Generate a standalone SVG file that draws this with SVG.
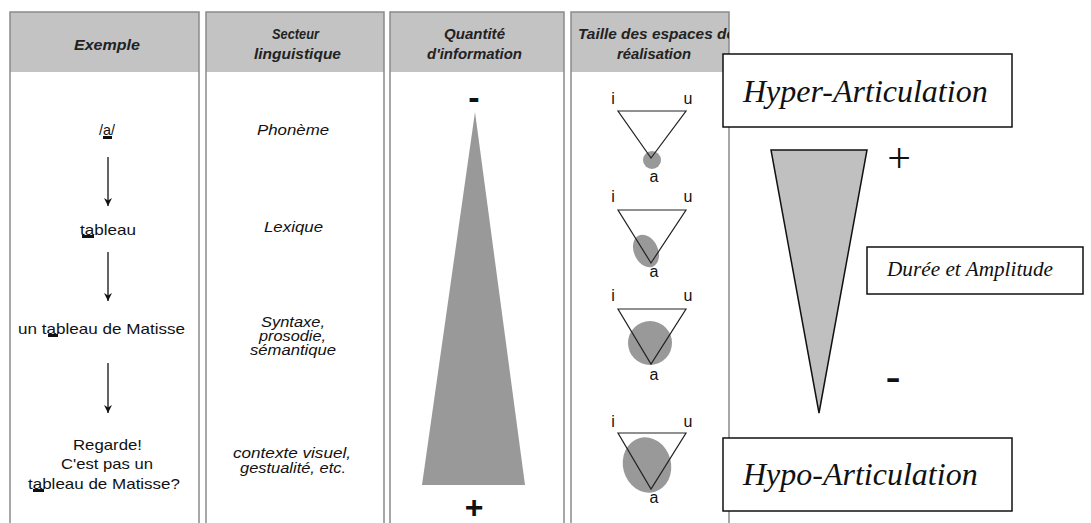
<svg xmlns="http://www.w3.org/2000/svg" width="1091" height="523" viewBox="0 0 1091 523">
<style>
.hdr{fill:#c3c3c3}
.col{fill:none;stroke:#8a8a8a;stroke-width:1.5}
.th{font-family:"Liberation Sans",Arial,sans-serif;font-weight:bold;font-style:italic;font-size:14px;fill:#222}
.ex{font-family:"Liberation Sans",Arial,sans-serif;font-size:15px;fill:#111}
.sec{font-family:"Liberation Sans",Arial,sans-serif;font-style:italic;font-size:15px;fill:#111}
.sec2{font-family:"Liberation Sans",Arial,sans-serif;font-style:italic;font-size:14.5px;fill:#111}
.v{font-family:"Liberation Sans",Arial,sans-serif;font-size:16px;fill:#111;text-anchor:middle}
.tri{fill:none;stroke:#222;stroke-width:1.2}
.blob{fill:#999}
.box{fill:#fff;stroke:#111;stroke-width:1.5}
.tt{font-family:"Liberation Serif","Times New Roman",serif;font-style:italic;fill:#111}
.bar{fill:#111}
.arr{stroke:#111;stroke-width:1.3;fill:none}
</style>
<defs>
<marker id="ah" viewBox="0 0 10 10" refX="10" refY="5" markerWidth="9" markerHeight="8" markerUnits="userSpaceOnUse" orient="auto">
<path d="M0,0 L10,5 L0,10 L3,5 Z" fill="#111"/>
</marker>
<clipPath id="c4"><rect x="571" y="0" width="158" height="523"/></clipPath>
</defs>
<rect width="1091" height="523" fill="#fff"/>

<g id="table">
<rect class="hdr" x="10" y="12" width="189" height="60"/>
<rect class="hdr" x="206" y="12" width="178" height="60"/>
<rect class="hdr" x="390" y="12" width="174" height="60"/>
<rect class="hdr" x="571" y="12" width="158" height="60"/>
<path class="col" d="M10,523 V12 H199 V523 M206,523 V12 H384 V523 M390,523 V12 H564 V523 M571,523 V12 H729 V523"/>
<text class="th" x="74" y="50" textLength="66" lengthAdjust="spacingAndGlyphs">Exemple</text>
<text class="th" x="272" y="39" textLength="47" lengthAdjust="spacingAndGlyphs">Secteur</text>
<text class="th" x="254" y="59" textLength="87" lengthAdjust="spacingAndGlyphs">linguistique</text>
<text class="th" x="444" y="39" textLength="61" lengthAdjust="spacingAndGlyphs">Quantité</text>
<text class="th" x="427" y="59" textLength="95" lengthAdjust="spacingAndGlyphs">d'information</text>
<g clip-path="url(#c4)">
<text class="th" x="578" y="39" textLength="157" lengthAdjust="spacingAndGlyphs">Taille des espaces de</text>
</g>
<text class="th" x="617" y="59" textLength="74" lengthAdjust="spacingAndGlyphs">réalisation</text>
</g>

<g id="exemples">
<rect class="bar" x="103" y="136" width="9" height="3"/>
<text class="ex" x="99" y="135" textLength="16" lengthAdjust="spacingAndGlyphs">/a/</text>
<rect class="bar" x="82" y="235" width="12" height="3"/>
<text class="ex" x="80" y="235" textLength="56" lengthAdjust="spacingAndGlyphs">tableau</text>
<rect class="bar" x="48" y="334" width="10" height="3"/>
<text class="ex" x="18" y="334" textLength="167" lengthAdjust="spacingAndGlyphs">un tableau de Matisse</text>
<text class="ex" x="73" y="450" textLength="69" lengthAdjust="spacingAndGlyphs">Regarde!</text>
<text class="ex" x="61" y="469" textLength="92" lengthAdjust="spacingAndGlyphs">C'est pas un</text>
<rect class="bar" x="33" y="489" width="11" height="3"/>
<text class="ex" x="28" y="489" textLength="152" lengthAdjust="spacingAndGlyphs">tableau de Matisse?</text>
</g>

<g id="connectors">
<line class="arr" x1="108" y1="157" x2="108" y2="206" marker-end="url(#ah)"/>
<line class="arr" x1="108" y1="252" x2="108" y2="301" marker-end="url(#ah)"/>
<line class="arr" x1="108" y1="363" x2="108" y2="413" marker-end="url(#ah)"/>
</g>

<g id="secteurs">
<text class="sec" x="257" y="135" textLength="72" lengthAdjust="spacingAndGlyphs">Phonème</text>
<text class="sec" x="264" y="232" textLength="59" lengthAdjust="spacingAndGlyphs">Lexique</text>
<text class="sec2" x="261" y="327" textLength="64" lengthAdjust="spacingAndGlyphs">Syntaxe,</text>
<text class="sec2" x="259" y="341" textLength="67" lengthAdjust="spacingAndGlyphs">prosodie,</text>
<text class="sec2" x="250" y="355" textLength="86" lengthAdjust="spacingAndGlyphs">sémantique</text>
<text class="sec" x="233" y="458" textLength="118" lengthAdjust="spacingAndGlyphs">contexte visuel,</text>
<text class="sec" x="240" y="473" textLength="106" lengthAdjust="spacingAndGlyphs">gestualité, etc.</text>
</g>

<g id="quantite">
<polygon points="475,112 525,485 422,485" fill="#999"/>
<text x="474" y="109" font-family="Liberation Sans,Arial,sans-serif" font-weight="bold" font-size="34" text-anchor="middle" fill="#111">-</text>
<text x="474" y="518" font-family="Liberation Sans,Arial,sans-serif" font-weight="bold" font-size="32" text-anchor="middle" fill="#111">+</text>
</g>

<g id="espaces">
<circle class="blob" cx="652" cy="160" r="9"/>
<polygon class="tri" points="618,111 686,111 651,158"/>
<text class="v" x="613" y="104">i</text><text class="v" x="688" y="104">u</text><text class="v" x="654" y="182">a</text>

<ellipse class="blob" cx="646" cy="251" rx="12" ry="17" transform="rotate(-25 646 251)"/>
<polygon class="tri" points="618,210 686,210 651,263"/>
<text class="v" x="613" y="202">i</text><text class="v" x="688" y="202">u</text><text class="v" x="654" y="277">a</text>

<ellipse class="blob" cx="650" cy="343" rx="22" ry="22"/>
<polygon class="tri" points="618,309 686,309 651,364"/>
<text class="v" x="613" y="301">i</text><text class="v" x="688" y="301">u</text><text class="v" x="654" y="380">a</text>

<ellipse class="blob" cx="647" cy="465" rx="24" ry="28" transform="rotate(-15 647 465)"/>
<polygon class="tri" points="618,433 686,433 651,489"/>
<text class="v" x="613" y="427">i</text><text class="v" x="688" y="427">u</text><text class="v" x="654" y="503">a</text>
</g>

<g id="hyper">
<rect class="box" x="723" y="54" width="289" height="73"/>
<text class="tt" x="743" y="102" font-size="32">Hyper-Articulation</text>
</g>

<g id="wedge">
<polygon points="771,150 867,150 819,413" fill="#c0c0c0" stroke="#111" stroke-width="1.5"/>
<text x="899" y="172" font-family="Liberation Serif,Times New Roman,serif" font-size="42" text-anchor="middle" fill="#111">+</text>
<text x="893" y="391" font-family="Liberation Serif,Times New Roman,serif" font-weight="bold" font-size="44" text-anchor="middle" fill="#111">-</text>
</g>

<g id="duree">
<rect class="box" x="867" y="247" width="216" height="47"/>
<text class="tt" x="887" y="276" font-size="20" textLength="166" lengthAdjust="spacingAndGlyphs">Durée et Amplitude</text>
</g>

<g id="hypo">
<rect class="box" x="723" y="438" width="289" height="73"/>
<text class="tt" x="743" y="485" font-size="32">Hypo-Articulation</text>
</g>
</svg>
